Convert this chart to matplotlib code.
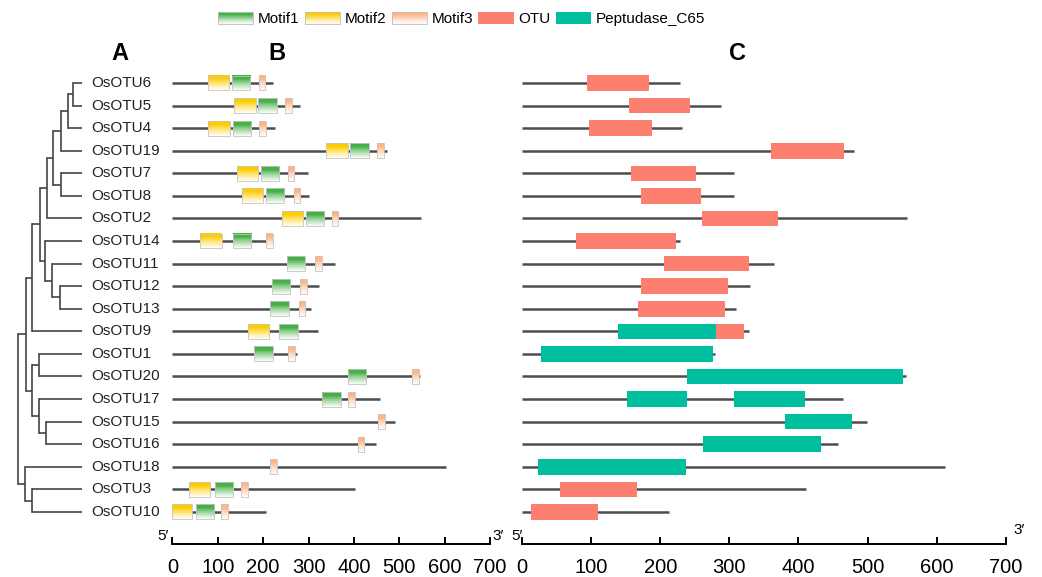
import numpy as np
import matplotlib
matplotlib.use("Agg")
import matplotlib.pyplot as plt
from matplotlib.colors import to_rgb
from matplotlib.patches import Rectangle, Patch
from matplotlib.legend_handler import HandlerBase
from matplotlib.transforms import blended_transform_factory

plt.rcParams["font.family"] = ["Liberation Sans", "DejaVu Sans"]

GENES = ["OsOTU6", "OsOTU5", "OsOTU4", "OsOTU19", "OsOTU7", "OsOTU8", "OsOTU2",
         "OsOTU14", "OsOTU11", "OsOTU12", "OsOTU13", "OsOTU9", "OsOTU1", "OsOTU20",
         "OsOTU17", "OsOTU15", "OsOTU16", "OsOTU18", "OsOTU3", "OsOTU10"]

# cladogram: (node depth, children)
TREE = (18, [
    (26, [
        (32, [
            (40, [
                (47, [
                    (53, [
                        (61, [(68, [(73, ["OsOTU6", "OsOTU5"]), "OsOTU4"]), "OsOTU19"]),
                        (61, ["OsOTU7", "OsOTU8"]),
                    ]),
                    "OsOTU2",
                ]),
                (45, ["OsOTU14", (52, ["OsOTU11", (60, ["OsOTU12", "OsOTU13"])])]),
            ]),
            "OsOTU9",
        ]),
        (32, [(39, ["OsOTU1", "OsOTU20"]),
              (39, ["OsOTU17", (46, ["OsOTU15", "OsOTU16"])])]),
    ]),
    (25, ["OsOTU18", (32, ["OsOTU3", "OsOTU10"])]),
])
TIP_X = 82

# panel B: conserved motifs
LEN_B = [222, 281, 226, 472, 298, 301, 548, 222, 358, 324, 305, 320, 274, 546,
         458, 491, 449, 603, 402, 206]
MOTIF1 = [(131, 171), (189, 230), (133, 173), (392, 433), (195, 235), (207, 247),
          (294, 334), (133, 173), (253, 292), (219, 259), (215, 256), (236, 276),
          (181, 222), (387, 427), (330, 371), None, None, None, (93, 133), (52, 92)]
MOTIF2 = [(78, 125), (136, 184), (79, 126), (339, 386), (142, 189), (154, 200),
          (241, 288), (62, 109), None, None, None, (166, 213), None, None, None,
          None, None, None, (37, 84), (0, 44)]
MOTIF3 = [(190, 205), (249, 263), (192, 206), (452, 466), (255, 269), (267, 281),
          (352, 366), (207, 222), (314, 329), (282, 297), (278, 292), None,
          (255, 270), (528, 543), (388, 402), (454, 469), (408, 422), (215, 230),
          (151, 166), (108, 123)]

# panel C: domains
LEN_C = [228, 288, 232, 481, 306, 307, 557, 228, 364, 330, 310, 328, 279, 555,
         465, 499, 457, 612, 411, 212]
OTU_DOM = [[(94, 184)], [(154, 243)], [(96, 188)], [(360, 466)], [(158, 251)],
           [(172, 259)], [(260, 370)], [(78, 223)], [(205, 328)], [(172, 298)],
           [(168, 294)], [(280, 321)], [], [], [], [], [], [], [(54, 166)], [(13, 109)]]
PEPT_DOM = [[], [], [], [], [], [], [], [], [], [], [],
            [(139, 280)], [(27, 276)], [(239, 552)], [(152, 239), (307, 410)],
            [(380, 478)], [(262, 432)], [(23, 237)], [], []]

TICKS = list(range(0, 800, 100))

C_MOTIF1 = "#45b045"
C_MOTIF2 = "#ffcc00"
C_MOTIF3 = "#ffb584"
C_OTU = "#fc7f6f"
C_PEPT = "#00bf9f"
C_LINE = "#4d4d4d"


def fade(color, t):
    # t = 0 at top of the box, 1 at bottom
    c = np.array(to_rgb(color))
    f = np.clip((t - 0.25) / 0.75, 0, 1) ** 0.8 * 0.97
    return c * (1 - f) + f


class GradKey:
    def __init__(self, color):
        self.color = color


class GradHandler(HandlerBase):
    def create_artists(self, legend, orig, xd, yd, width, height, fontsize, trans):
        arts = []
        n = 14
        for i in range(n):
            t = 1 - (i + 0.5) / n
            arts.append(Rectangle((-xd, -yd + i * height / n), width, height / n + 0.3,
                                  facecolor=fade(orig.color, t), edgecolor="none",
                                  transform=trans))
        arts.append(Rectangle((-xd, -yd), width, height, facecolor="none",
                              edgecolor="#bdbdbd", lw=0.6, transform=trans))
        return arts


fig = plt.figure(figsize=(10.42, 5.77), dpi=100)
Y0, YH = 0.0572, 0.8381
YLIM = (20.42, -1)

# --- A: tree ---
ax_t = fig.add_axes([0, Y0, 172 / 1042, YH])
ax_t.set_xlim(0, 172)
ax_t.set_ylim(*YLIM)
ax_t.axis("off")


def draw_node(node):
    if isinstance(node, str):
        return TIP_X, GENES.index(node)
    x, kids = node
    ys = []
    for k in kids:
        kx, ky = draw_node(k)
        ax_t.plot([x, kx], [ky, ky], color="#444444", lw=1.2, solid_capstyle="butt")
        ys.append(ky)
    ax_t.plot([x, x], [ys[0], ys[-1]], color="#444444", lw=1.2, solid_capstyle="projecting")
    return x, (ys[0] + ys[-1]) / 2


draw_node(TREE)
for i, g in enumerate(GENES):
    ax_t.text(91, i, g, fontsize=11, va="center", ha="left", color="#222222")

BOX_H = 0.66


def style_axis(ax):
    ax.set_xlim(0, 700)
    ax.set_ylim(*YLIM)
    for s in ("top", "left", "right"):
        ax.spines[s].set_visible(False)
    ax.spines["bottom"].set_linewidth(1.4)
    ax.set_yticks([])
    ax.set_xticks(TICKS)
    ax.tick_params(axis="x", direction="in", length=5, width=1.4, labelsize=14.5, pad=10)


# --- B: motifs ---
ax_b = fig.add_axes([0.1654, Y0, 0.3049, YH])
ax_b.hlines(range(len(GENES)), 0, LEN_B, color=C_LINE, lw=1.8, zorder=1)
grad_rows = np.linspace(0, 1, 40)
for motifs, col in ((MOTIF1, C_MOTIF1), (MOTIF2, C_MOTIF2), (MOTIF3, C_MOTIF3)):
    img = np.array([fade(col, t) for t in grad_rows])[:, None, :]
    for i, m in enumerate(motifs):
        if m is None:
            continue
        x0, x1 = m
        ax_b.imshow(img, extent=(x0, x1, i + BOX_H / 2, i - BOX_H / 2),
                    aspect="auto", interpolation="bilinear", zorder=2)
        ax_b.add_patch(Rectangle((x0, i - BOX_H / 2), x1 - x0, BOX_H, facecolor="none",
                                 edgecolor="#c4c4c4", lw=0.6, zorder=3))
style_axis(ax_b)
tb = blended_transform_factory(ax_b.transData, ax_b.transAxes)
ax_b.text(-20, 0.017, "5\u2032", transform=tb, fontsize=11, ha="center", va="center")
ax_b.text(717, 0.017, "3\u2032", transform=tb, fontsize=11, ha="center", va="center")

# --- C: domains ---
ax_c = fig.add_axes([0.5012, Y0, 0.4639, YH])
ax_c.hlines(range(len(GENES)), 0, LEN_C, color=C_LINE, lw=1.8, zorder=1)
for i in range(len(GENES)):
    for s, e in PEPT_DOM[i]:
        ax_c.barh(i, e - s, left=s, height=0.69, color=C_PEPT, zorder=2)
    for s, e in OTU_DOM[i]:
        ax_c.barh(i, e - s, left=s, height=0.69, color=C_OTU, zorder=2)
style_axis(ax_c)
tc = blended_transform_factory(ax_c.transData, ax_c.transAxes)
ax_c.text(-8, 0.017, "5\u2032", transform=tc, fontsize=11, ha="center", va="center")
ax_c.text(720, 0.029, "3\u2032", transform=tc, fontsize=11, ha="center", va="center")

# panel letters
for lab, x in (("A", 120), ("B", 277), ("C", 737)):
    fig.text(x / 1042, 1 - 53 / 577, lab, fontsize=17, fontweight="bold",
             ha="center", va="center")

handles = [GradKey(C_MOTIF1), GradKey(C_MOTIF2), GradKey(C_MOTIF3),
           Patch(facecolor=C_OTU, edgecolor="none"), Patch(facecolor=C_PEPT, edgecolor="none")]
labels = ["Motif1", "Motif2", "Motif3", "OTU", "Peptudase_C65"]
fig.legend(handles, labels, handler_map={GradKey: GradHandler()}, loc="center",
           bbox_to_anchor=(0.443, 0.967), ncol=5, frameon=False, fontsize=11,
           handlelength=2.3, handleheight=0.8, handletextpad=0.3, columnspacing=0.35)

fig.savefig("out.png", dpi=100)
